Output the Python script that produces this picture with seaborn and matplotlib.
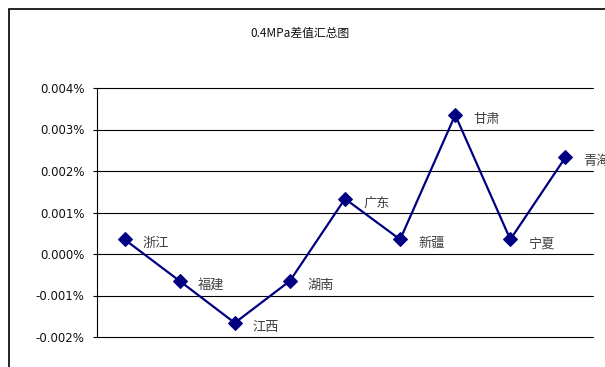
import matplotlib
matplotlib.use("Agg")
import matplotlib.pyplot as plt
import seaborn as sns
import pandas as pd
from matplotlib.patches import Rectangle
from matplotlib.ticker import FuncFormatter, FixedLocator

provinces = ["浙江", "福建", "江西", "湖南", "广东", "新疆", "甘肃", "宁夏", "青海"]
diff_pct = [0.00035, -0.00065, -0.00166, -0.00065, 0.00133, 0.00035, 0.00335, 0.00035, 0.00233]
y_ticks = [-0.002, -0.001, 0.0, 0.001, 0.002, 0.003, 0.004]
title = "0.4MPa差值汇总图"

sns.set_theme(style="white")
plt.rcParams['font.family'] = ['Noto Sans CJK SC', 'DejaVu Sans']

df = pd.DataFrame({"idx": range(len(provinces)), "province": provinces, "value": diff_pct})

W, H = 605, 367
fig = plt.figure(figsize=(W / 100, H / 100), dpi=100)
fig.patch.set_facecolor("white")
ax = fig.add_axes([97 / W, 1 - 337 / H, (593 - 97) / W, (337 - 88) / H])

sns.lineplot(data=df, x="idx", y="value", ax=ax, color="#000080", linewidth=1.6,
             marker="D", markersize=7.5, markeredgecolor="#000080", markerfacecolor="#000080")

for i, (p, v) in enumerate(zip(provinces, diff_pct)):
    ax.annotate(p, (i, v), xytext=(13, -3), textcoords="offset points",
                ha="left", va="center", fontsize=9.5, color="#404040",
                annotation_clip=False)

ax.set_xlim(-0.5, len(provinces) - 0.5)
ax.set_ylim(y_ticks[0], y_ticks[-1])
ax.yaxis.set_major_locator(FixedLocator(y_ticks))
ax.yaxis.set_major_formatter(FuncFormatter(lambda v, _: f"{v:.3f}%"))
ax.set_xticks([])
ax.set_xlabel("")
ax.set_ylabel("")
for t in ax.get_yticklabels():
    t.set_fontfamily(['DejaVu Sans'])
    t.set_fontsize(8.5)
    t.set_color("#111111")
ax.tick_params(axis="y", which="major", direction="out", length=3, width=0.8,
               color="black", left=True, pad=6)
ax.grid(False)
for yt in y_ticks:
    ax.axhline(yt, color="black", linewidth=0.8, clip_on=False, zorder=0.5)
for s in ["top", "right", "bottom"]:
    ax.spines[s].set_visible(False)
ax.spines["left"].set_color("black")
ax.spines["left"].set_linewidth(0.8)

fig.text(300 / W, 1 - 33 / H, title, ha="center", va="center", fontsize=8.5, color="#111111")

fig.patches.append(Rectangle((9 / W, -0.05), 1.1, 1 - 9 / H + 0.05, transform=fig.transFigure,
                             fill=False, edgecolor="black", linewidth=1.2))

fig.savefig("out.png", dpi=100)
